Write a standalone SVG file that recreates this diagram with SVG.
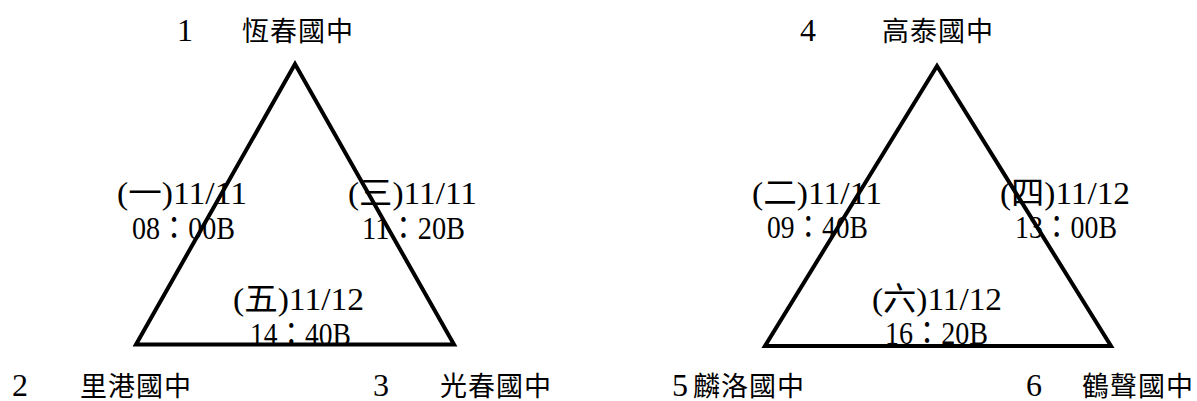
<svg xmlns="http://www.w3.org/2000/svg" width="1197" height="401" viewBox="0 0 1197 401">
<style>
.t{font-family:"Liberation Serif","Noto Sans CJK TC",serif;font-size:32px;fill:#000}
.c{font-size:27px}
.tri{fill:none;stroke:#000;stroke-width:4;stroke-linejoin:miter}
</style>
<rect width="1197" height="401" fill="#fff"/>
<g id="connectors">
<polygon id="tri1" class="tri" points="295,64 136,344.5 454,344.5"/>
<polygon id="tri2" class="tri" points="937,66 765,346 1111,346"/>
</g>
<g id="node1"><text class="t" y="41"><tspan x="177">1</tspan><tspan class="c" x="242" letter-spacing="1">恆春國中</tspan></text></g>
<g id="node2"><text class="t" y="396"><tspan x="12">2</tspan><tspan class="c" x="80" letter-spacing="1">里港國中</tspan></text></g>
<g id="node3"><text class="t" y="396"><tspan x="373">3</tspan><tspan class="c" x="440" letter-spacing="1">光春國中</tspan></text></g>
<g id="node4"><text class="t" y="41"><tspan x="800">4</tspan><tspan class="c" x="882" letter-spacing="1">高泰國中</tspan></text></g>
<g id="node5"><text class="t" y="396"><tspan x="672">5</tspan><tspan class="c" x="693" letter-spacing="1">麟洛國中</tspan></text></g>
<g id="node6"><text class="t" y="396"><tspan x="1026">6</tspan><tspan class="c" x="1082" letter-spacing="1">鶴聲國中</tspan></text></g>
<g id="labels">
<text class="t" x="117" y="204" textLength="130" lengthAdjust="spacingAndGlyphs">(一)11/11</text>
<text class="t" x="132" y="239" textLength="103" lengthAdjust="spacingAndGlyphs">08：00B</text>
<text class="t" x="348" y="204" textLength="129" lengthAdjust="spacingAndGlyphs">(三)11/11</text>
<text class="t" x="362" y="239" textLength="103" lengthAdjust="spacingAndGlyphs">11：20B</text>
<text class="t" x="233" y="310" textLength="131" lengthAdjust="spacingAndGlyphs">(五)11/12</text>
<text class="t" x="250" y="345" textLength="101" lengthAdjust="spacingAndGlyphs">14：40B</text>
<text class="t" x="752" y="204" textLength="130" lengthAdjust="spacingAndGlyphs">(二)11/11</text>
<text class="t" x="767" y="238" textLength="101" lengthAdjust="spacingAndGlyphs">09：40B</text>
<text class="t" x="1000" y="204" textLength="130" lengthAdjust="spacingAndGlyphs">(四)11/12</text>
<text class="t" x="1015" y="238" textLength="102" lengthAdjust="spacingAndGlyphs">13：00B</text>
<text class="t" x="872" y="310" textLength="130" lengthAdjust="spacingAndGlyphs">(六)11/12</text>
<text class="t" x="885" y="344" textLength="103" lengthAdjust="spacingAndGlyphs">16：20B</text>
</g>
</svg>
